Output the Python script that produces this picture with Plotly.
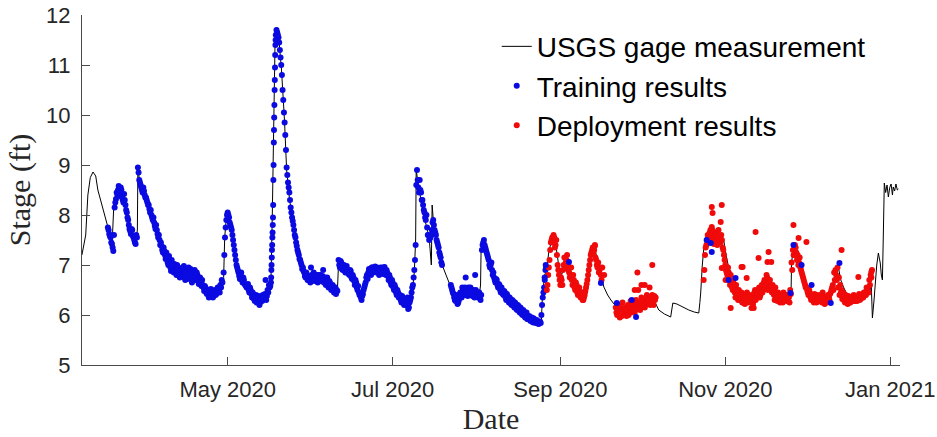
import numpy as np
import pandas as pd
import plotly.graph_objects as go

BASE = pd.Timestamp("2020-03-01")

# ---- USGS gage measurement (days since 2020-03-01, stage ft) ----
gage_days = [7.1, 8.5, 9.3, 10.2, 11.2, 12.2, 13.0, 14.9, 16.7, 17.5, 18.2, 18.6, 18.9, 19.6, 20.4, 21.5,
             22.6, 23.7, 24.8, 26.0, 27.1, 27.6, 27.8, 28.6, 30.0, 32.2, 34.0, 35.9, 37.8, 39.5, 41.4, 44.0,
             47.0, 49.0, 50.7, 52.5, 54.4, 56.5, 58.8, 59.5, 59.9, 60.5, 61.0, 62.0, 63.2, 64.3, 66.0, 68.0,
             70.0, 71.7, 74.0, 76.5, 77.0, 77.5, 78.0, 78.5, 79.1, 79.8, 80.9, 82.0, 82.8, 83.9, 85.7, 87.6,
             89.4, 91.0, 93.1, 96.0, 98.6, 100.5, 101.6, 102.0, 104.0, 106.0, 108.0, 109.0, 110.8, 111.5,
             112.7, 115.0, 117.1, 119.0, 120.8, 122.5, 123.7, 125.5, 127.1, 128.5, 129.5, 130.0, 130.5,
             130.7, 131.8, 133.7, 135.5, 136.3, 136.6, 137.4, 139.2, 140.3, 142.9, 144.8, 146.6, 148.5,
             150.3, 152.0, 154.0, 154.5, 154.7, 155.8, 157.7, 159.5, 161.0, 163.2, 165.0, 166.9, 169.0,
             172.4, 174.0, 176.1, 177.0, 177.4, 178.2, 179.0, 179.8, 181.0, 181.7, 182.6, 183.5, 184.5,
             185.3, 186.1, 187.5, 189.0, 190.8, 192.7, 194.0, 194.6, 195.5, 196.4, 197.3, 198.3, 200.1,
             201.5, 202.7, 204.9, 207.0, 209.0, 211.2, 213.0, 215.0, 217.0, 218.6, 220.4, 222.5, 224.8,
             225.3, 225.6, 227.1, 229.5, 231.5, 233.5, 235.2, 235.6, 235.9, 236.5, 237.0, 238.0, 238.9,
             240.5, 242.6, 243.5, 244.4, 245.3, 246.2, 248.0, 249.9, 251.5, 253.6, 255.5, 257.3, 259.0,
             261.0, 263.0, 264.7, 266.0, 267.6, 269.3, 269.5, 270.2, 271.0, 272.1, 273.9, 275.8, 277.5,
             279.5, 281.5, 283.1, 284.0, 285.0, 286.0, 286.8, 287.7, 288.7, 290.5, 292.5, 294.2, 296.0,
             297.9, 299.0, 299.4, 300.0, 300.5, 301.0, 301.6, 302.0, 302.3, 302.7, 303.1, 303.4, 303.8,
             304.3, 304.8, 305.3, 305.8, 306.3, 306.8, 307.1, 307.6, 308.1, 308.6, 309.0]
gage_stage = [7.2, 7.6, 8.4, 8.75, 8.86, 8.78, 8.5, 8.1, 7.76, 7.6, 7.35, 7.7, 8.2, 8.35, 8.55, 8.45,
              8.3, 8.0, 7.75, 7.65, 7.5, 7.7, 8.95, 8.6, 8.45, 8.1, 7.8, 7.5, 7.25, 7.1, 6.95, 6.9,
              6.85, 6.78, 6.7, 6.55, 6.47, 6.48, 6.55, 6.75, 7.55, 7.95, 8.05, 7.85, 7.4, 7.0, 6.8, 6.62,
              6.45, 6.36, 6.35, 6.5, 6.7, 8.0, 10.0, 11.4, 11.76, 11.6, 10.9, 9.9, 8.9, 8.3, 7.7, 7.2,
              6.9, 6.8, 6.75, 6.7, 6.6, 6.5, 6.52, 7.05, 7.0, 6.92, 6.7, 6.55, 6.35, 6.5,
              6.8, 6.9, 6.92, 6.88, 6.8, 6.55, 6.4, 6.3, 6.25, 6.3, 6.6, 6.85, 7.5,
              8.9, 8.5, 7.95, 7.55, 7.0, 8.2, 7.65, 7.3, 7.0, 6.64, 6.44, 6.32, 6.4,
              6.45, 6.4, 6.38, 6.6, 7.3, 7.46, 7.1, 6.7, 6.55, 6.42, 6.3, 6.22, 6.12,
              6.0, 5.92, 5.85, 5.9, 6.4, 6.8, 6.9, 7.3, 7.5, 7.6, 7.3, 6.95, 6.8,
              7.0, 7.15, 6.9, 6.64, 6.45, 6.3, 6.45, 6.8, 7.2, 7.36, 7.2, 6.96, 6.56,
              6.4, 6.3, 6.15, 6.05, 6.1, 6.15, 6.2, 6.25, 6.3, 6.3, 6.1, 6.02, 5.96,
              6.1, 6.24, 6.22, 6.15, 6.1, 6.06, 6.04, 6.25, 6.44, 7.0, 7.3, 7.55, 7.66,
              7.6, 7.64, 7.55, 7.5, 7.2, 6.96, 6.75, 6.5, 6.4, 6.3, 6.3, 6.36, 6.5,
              6.64, 6.5, 6.36, 6.35, 6.34, 6.4, 7.04, 7.36, 7.2, 7.04, 6.76, 6.5, 6.4,
              6.34, 6.28, 6.24, 6.35, 6.5, 6.75, 6.96, 6.7, 6.56, 6.36, 6.35, 6.36, 6.4,
              6.44, 6.56, 5.94, 6.3, 6.7, 7.0, 7.24, 7.15, 7.04, 6.8, 6.7, 7.5, 8.64,
              8.45, 8.6, 8.36, 8.55, 8.62, 8.4, 8.56, 8.48, 8.62, 8.5, 8.52]

# ---- Training results: segments (start day, step in days, values) ----
train_starts = [16.7, 27.8, 59.5, 77.0, 78.8, 102.0, 130.0, 143.5, 155.0,
                16.95, 28.05, 59.75, 77.07, 79.05, 102.25, 130.25, 143.75, 155.25]
train_steps = [0.5, 0.5, 0.5, 0.15, 0.5, 0.5, 0.5, 0.5, 0.5,
               0.5, 0.5, 0.5, 0.15, 0.5, 0.5, 0.5, 0.5, 0.5]
train_values = [
    [7.75, 7.62, 7.55, 7.42, 7.28, 8.15, 8.32, 8.4, 8.58, 8.38, 8.5, 8.3, 8.42, 8.2, 8.05, 7.9, 7.72, 7.62,
     7.7, 7.55, 7.45, 7.6],
    [8.95, 8.7, 8.6, 8.5, 8.55, 8.4, 8.35, 8.25, 8.2, 8.05, 8.0, 7.9, 7.85, 7.72, 7.7, 7.55, 7.5, 7.45,
     7.3, 7.35, 7.2, 7.25, 7.05, 7.18, 6.95, 7.1, 6.92, 7.02, 6.85, 7.0, 6.95, 6.75, 6.9, 6.85, 6.98, 6.7,
     6.88, 6.9, 6.78, 6.92, 6.65, 6.8, 6.9, 6.72, 6.8, 6.62, 6.75, 6.58, 6.6, 6.48, 6.55, 6.42, 6.5, 6.4,
     6.52, 6.45, 6.38, 6.5, 6.42, 6.55, 6.48, 6.6, 6.7],
    [6.85, 7.55, 7.9, 8.05, 7.95, 7.8, 7.7, 7.5, 7.3, 7.1, 6.95, 6.85, 6.72, 6.85, 6.65, 6.7, 6.6, 6.55,
     6.62, 6.45, 6.5, 6.35, 6.42, 6.28, 6.4, 6.3, 6.38, 6.25, 6.35, 6.4, 6.32, 6.7, 6.38, 6.45, 6.55],
    [6.65, 6.9, 7.15, 7.4, 7.65, 7.95, 8.7, 9.45, 9.95, 10.5, 10.95, 11.4],
    [11.6, 11.65, 11.55, 11.3, 11.0, 10.5, 10.05, 9.6, 8.95, 8.65, 8.45, 8.15, 7.95, 7.8, 7.6, 7.45, 7.3,
     7.2, 7.1, 7.0, 6.95, 6.85, 6.75, 6.8, 6.7, 6.78, 6.95, 6.7, 6.85, 6.72, 6.8, 6.65, 6.75, 6.8, 6.7,
     6.9, 6.72, 6.6, 6.75, 6.55, 6.65, 6.5, 6.6, 6.45, 6.55, 6.5],
    [7.1, 6.95, 7.05, 6.9, 7.0, 6.85, 6.98, 6.9, 6.8, 6.88, 6.72, 6.75, 6.6, 6.65, 6.5, 6.45, 6.4, 6.3,
     6.42, 6.55, 6.65, 6.8, 6.85, 6.9, 6.8, 6.95, 6.88, 6.97, 6.85, 6.92, 6.8, 6.95, 6.9, 6.82, 6.96, 6.8,
     6.85, 6.7, 6.75, 6.6, 6.65, 6.5, 6.55, 6.4, 6.45, 6.35, 6.3, 6.38, 6.25, 6.32, 6.2, 6.35, 6.15, 6.3,
     6.45, 6.6],
    [6.9, 7.4, 8.9, 8.55, 8.7, 8.45, 8.3, 8.1, 7.95, 8.0, 7.6, 7.5, 7.55, 7.7, 7.9, 7.7, 7.6, 7.45, 7.35,
     7.2, 7.05],
    [6.6, 6.5, 6.42, 6.3, 6.35, 6.22, 6.3, 6.45, 6.35, 6.5, 6.4, 6.75, 6.45, 6.55, 6.4, 6.5, 6.38, 6.45,
     6.8, 6.42, 6.35, 6.45, 6.3],
    [7.3, 7.45, 7.4, 7.3, 7.2, 7.1, 6.95, 7.05, 6.8, 6.75, 6.65, 6.7, 6.55, 6.6, 6.45, 6.5, 6.4, 6.45,
     6.3, 6.38, 6.25, 6.32, 6.2, 6.28, 6.15, 6.22, 6.1, 6.18, 6.05, 6.12, 6.0, 6.08, 5.95, 6.05, 5.92,
     5.98, 5.88, 5.95, 5.85, 5.9, 5.84, 5.88, 5.82, 5.87, 6.0, 6.35, 6.55, 6.9],
    # second pass (offset samples)
    [7.7, 7.58, 7.45, 7.35, 7.6, 8.25, 8.45, 8.5, 8.45, 8.55, 8.35, 8.25, 8.3, 8.1, 7.95, 7.8, 7.68, 7.72,
     7.58, 7.5, 7.42, 7.55],
    [8.85, 8.65, 8.55, 8.45, 8.48, 8.35, 8.3, 8.2, 8.12, 8.1, 7.95, 7.95, 7.78, 7.8, 7.62, 7.6, 7.4, 7.38,
     7.25, 7.28, 7.12, 7.15, 7.0, 7.05, 6.88, 7.0, 6.85, 6.9, 6.8, 6.95, 6.82, 6.9, 6.8, 6.92, 6.75, 6.85,
     6.72, 6.95, 6.85, 6.7, 6.85, 6.75, 6.7, 6.85, 6.68, 6.72, 6.65, 6.7, 6.55, 6.58, 6.45, 6.5, 6.35,
     6.45, 6.42, 6.35, 6.45, 6.4, 6.48, 6.5, 6.45, 6.55, 6.65],
    [7.2, 7.75, 8.0, 8.0, 7.85, 7.75, 7.6, 7.4, 7.2, 7.0, 6.9, 6.78, 6.8, 6.7, 6.75, 6.62, 6.58, 6.6, 6.5,
     6.55, 6.42, 6.45, 6.32, 6.35, 6.25, 6.32, 6.2, 6.3, 6.28, 6.35, 6.42, 6.3, 6.5, 6.6, 6.58],
    [6.75, 7.0, 7.3, 7.55, 7.8, 8.2, 9.0, 9.7, 10.2, 10.7, 11.2, 11.5],
    [11.7, 11.6, 11.45, 11.15, 10.8, 10.3, 9.85, 9.3, 8.8, 8.55, 8.3, 8.05, 7.88, 7.7, 7.55, 7.38, 7.25,
     7.12, 7.05, 6.92, 6.88, 6.78, 6.85, 6.7, 6.75, 6.65, 6.8, 6.75, 6.68, 6.78, 6.7, 6.8, 6.68, 6.72,
     6.78, 6.65, 6.75, 6.7, 6.62, 6.68, 6.58, 6.55, 6.5, 6.55, 6.42, 6.48],
    [7.0, 7.08, 6.92, 6.98, 6.9, 6.95, 6.85, 6.82, 6.9, 6.75, 6.8, 6.68, 6.7, 6.55, 6.58, 6.4, 6.35, 6.38,
     6.5, 6.6, 6.75, 6.72, 6.92, 6.85, 6.95, 6.85, 6.92, 6.88, 6.95, 6.85, 6.92, 6.85, 6.95, 6.88, 6.85,
     6.9, 6.78, 6.8, 6.65, 6.7, 6.55, 6.6, 6.45, 6.5, 6.35, 6.4, 6.25, 6.3, 6.2, 6.28, 6.22, 6.12, 6.25,
     6.35, 6.55, 6.75],
    [7.1, 8.6, 8.7, 8.45, 8.5, 8.3, 8.2, 8.05, 7.9, 7.75, 7.6, 7.55, 7.6, 7.85, 7.8, 7.65, 7.5, 7.4, 7.25,
     7.15, 7.0],
    [6.55, 6.45, 6.35, 6.28, 6.4, 6.25, 6.38, 6.4, 6.55, 6.42, 6.55, 6.48, 6.38, 6.48, 6.55, 6.42, 6.5,
     6.35, 6.5, 6.4, 6.45, 6.38, 6.4],
    [7.4, 7.5, 7.35, 7.25, 7.15, 7.0, 7.0, 6.9, 6.85, 6.7, 6.72, 6.6, 6.62, 6.5, 6.55, 6.42, 6.48, 6.35,
     6.42, 6.3, 6.35, 6.22, 6.3, 6.18, 6.25, 6.12, 6.2, 6.08, 6.15, 6.02, 6.1, 5.98, 6.02, 5.92, 5.96,
     5.9, 5.92, 5.86, 5.93, 5.85, 5.9, 5.83, 5.86, 5.84, 6.2, 6.45, 6.7, 6.95],
]
# training points that fall inside the deployment period
train_late_days = [239.6, 240.0, 238.1, 246.2, 248.8, 270.2, 273.2, 276.9, 284.0, 287.2, 269.1,
                   187.2, 204.9, 212.0, 199.0, 210.4, 178.2, 178.6]
train_late_stage = [7.44, 7.26, 7.5, 6.7, 6.74, 7.4, 7.0, 6.6, 6.24, 7.04, 6.44,
                    7.06, 6.24, 5.96, 6.64, 6.3, 6.75, 7.0]

# ---- Deployment results ----
deploy_starts = [179.0, 204.5, 237.0, 179.25, 204.75, 237.25]
deploy_steps = [0.5, 0.5, 0.5, 0.5, 0.5, 0.5]
deploy_values = [
    [6.5, 6.8, 7.1, 7.45, 7.55, 7.6, 7.35, 7.5, 7.0, 6.8, 6.6, 6.7, 6.9, 7.15, 7.05, 7.2, 6.9, 6.75, 6.95,
     6.6, 6.7, 6.5, 6.6, 6.4, 6.55, 6.35, 6.45, 6.3, 6.4, 6.55, 6.7, 6.9, 7.1, 7.25, 7.35, 7.3, 7.15, 7.0,
     7.05, 6.9, 6.8],
    [6.15, 6.0, 6.2, 5.95, 6.1, 6.25, 6.0, 6.15, 5.98, 6.2, 6.05, 6.28, 6.1, 6.2, 6.05, 6.3, 6.15, 6.25,
     6.1, 6.35, 6.2, 6.3, 6.25, 6.4, 6.22, 6.35, 6.28, 6.4, 6.2, 6.3],
    [6.7, 7.2, 7.4, 7.6, 7.55, 7.7, 7.45, 7.6, 7.5, 7.65, 7.4, 7.7, 7.55, 7.6, 7.35, 7.2, 7.0, 6.85, 6.95,
     6.7, 6.8, 6.55, 6.7, 6.45, 6.6, 6.4, 6.5, 6.3, 6.45, 6.25, 6.4, 6.3, 6.45, 6.28, 6.35, 6.25, 6.4, 6.3,
     6.5, 6.35, 6.45, 6.55, 6.4, 6.6, 6.5, 6.7, 6.55, 6.75, 6.6, 6.7, 6.5, 6.6, 6.4, 6.55, 6.35, 6.45, 6.3,
     6.4, 6.3, 6.45, 6.35, 6.3, 6.4, 6.35, 6.5, 7.05, 7.3, 7.2, 7.35, 7.1, 7.0, 7.15, 6.9, 6.8, 6.7, 6.6,
     6.55, 6.45, 6.5, 6.35, 6.4, 6.3, 6.42, 6.32, 6.4, 6.28, 6.35, 6.3, 6.45, 6.28, 6.35, 6.25, 6.4, 6.3,
     6.45, 6.55, 6.5, 6.7, 6.8, 6.95, 6.75, 6.6, 6.5, 6.45, 6.35, 6.4, 6.3, 6.38, 6.25, 6.35, 6.3, 6.4,
     6.28, 6.36, 6.3, 6.42, 6.32, 6.4, 6.35, 6.45, 6.4, 6.5, 6.45, 6.6, 6.75],
    # second pass (offset samples)
    [6.6, 6.95, 7.3, 7.5, 7.45, 7.55, 7.4, 7.2, 6.9, 6.7, 6.75, 6.6, 7.0, 6.95, 7.1, 7.0, 6.85, 6.8, 6.7,
     6.8, 6.55, 6.65, 6.45, 6.5, 6.38, 6.45, 6.3, 6.35, 6.48, 6.62, 6.8, 7.0, 7.2, 7.3, 7.25, 7.38, 7.1,
     6.95, 6.85, 6.95, 6.7],
    [6.05, 6.1, 6.0, 6.15, 5.98, 6.12, 6.08, 6.02, 6.1, 6.0, 6.15, 6.05, 6.22, 6.08, 6.2, 6.12, 6.2, 6.15,
     6.25, 6.18, 6.3, 6.15, 6.32, 6.25, 6.3, 6.2, 6.35, 6.25, 6.38, 6.35],
    [6.9, 7.35, 7.5, 7.45, 7.65, 7.5, 7.7, 7.42, 7.6, 7.5, 7.6, 7.5, 7.45, 7.5, 7.3, 7.1, 6.9, 6.8, 6.85,
     6.6, 6.65, 6.5, 6.55, 6.35, 6.5, 6.3, 6.4, 6.38, 6.25, 6.35, 6.22, 6.35, 6.25, 6.4, 6.3, 6.35, 6.22,
     6.45, 6.3, 6.45, 6.5, 6.35, 6.5, 6.45, 6.65, 6.6, 6.8, 6.5, 6.65, 6.55, 6.45, 6.5, 6.3, 6.45, 6.28,
     6.35, 6.25, 6.38, 6.25, 6.32, 6.4, 6.28, 6.35, 6.25, 6.42, 6.9, 7.2, 7.4, 7.25, 7.2, 7.05, 6.95, 6.85,
     6.75, 6.65, 6.55, 6.5, 6.4, 6.45, 6.3, 6.35, 6.25, 6.35, 6.25, 6.38, 6.3, 6.4, 6.25, 6.38, 6.22,
     6.32, 6.3, 6.35, 6.42, 6.5, 6.6, 6.85, 6.9, 6.7, 6.55, 6.4, 6.45, 6.32, 6.3, 6.25, 6.32, 6.22, 6.3,
     6.25, 6.35, 6.3, 6.28, 6.35, 6.28, 6.38, 6.3, 6.4, 6.35, 6.45, 6.4, 6.55, 6.5, 6.7, 6.8, 6.9],
]
deploy_extra_days = [212.5, 212.8, 214.0, 215.2, 217.0, 218.0, 211.5,
                     240.0, 243.7, 240.3, 243.3, 240.0, 256.2, 261.0, 257.3, 251.0, 252.9, 247.0,
                     254.7, 270.2, 272.1, 275.0, 288.0, 294.2, 299.0, 260.6, 251.4, 243.7, 245.1,
                     262.0, 255.5, 196.8, 199.5, 200.2]
deploy_extra_stage = [6.85, 6.5, 6.6, 6.6, 6.55, 7.0, 6.5,
                      8.16, 8.2, 8.04, 7.86, 7.76, 7.66, 7.26, 7.14, 6.96, 6.74, 6.14,
                      6.14, 7.8, 7.54, 7.46, 7.3, 6.76, 6.86, 7.06, 6.96, 6.94, 6.7,
                      7.06, 6.14, 7.4, 6.95, 6.8]

# x-axis ticks
tick_days = [61, 122, 184, 245, 306]
tick_text = ["May 2020", "Jul 2020", "Sep 2020", "Nov 2020", "Jan 2021"]
x_range_days = [7.13, 309.6]


def to_dates(days):
    return BASE + pd.to_timedelta(np.asarray(days, dtype=float), unit="D")


def expand(starts, steps, values):
    d, v = [], []
    for s, st, vals in zip(starts, steps, values):
        for i, val in enumerate(vals):
            d.append(s + st * i)
            v.append(val)
    return d, v


tr_d, tr_v = expand(train_starts, train_steps, train_values)
dp_d, dp_v = expand(deploy_starts, deploy_steps, deploy_values)
dp_d += deploy_extra_days
dp_v += deploy_extra_stage

BLUE = "rgb(10,10,225)"
RED = "rgb(240,10,10)"
MS = 6

fig = go.Figure()
fig.add_trace(go.Scatter(x=to_dates(gage_days), y=gage_stage, mode="lines",
                         line=dict(color="black", width=1), name="USGS gage measurement"))
fig.add_trace(go.Scatter(x=to_dates(tr_d), y=tr_v, mode="markers",
                         marker=dict(color=BLUE, size=MS, line=dict(width=0)), name="Training results"))
fig.add_trace(go.Scatter(x=to_dates(dp_d), y=dp_v, mode="markers",
                         marker=dict(color=RED, size=MS, line=dict(width=0)), name="Deployment results"))
fig.add_trace(go.Scatter(x=to_dates(train_late_days), y=train_late_stage, mode="markers",
                         marker=dict(color=BLUE, size=MS, line=dict(width=0)), showlegend=False))

axis_col = "#4a4a4a"
tick_font = dict(family="Liberation Sans, Arial, sans-serif", size=22, color="#262626")
fig.update_layout(
    width=937, height=437,
    margin=dict(l=82, r=37, t=15, b=72),
    plot_bgcolor="white", paper_bgcolor="white",
    showlegend=True,
    legend=dict(x=0.507, y=0.981, xanchor="left", yanchor="top",
                font=dict(family="Liberation Sans, Arial, sans-serif", size=28, color="black"),
                bgcolor="rgba(0,0,0,0)", borderwidth=0, itemsizing="trace", tracegroupgap=0),
    xaxis=dict(type="date", range=list(to_dates(x_range_days)), tickvals=list(to_dates(tick_days)),
               ticktext=tick_text, showgrid=False, zeroline=False, showline=True, linecolor=axis_col,
               linewidth=1, ticks="inside", ticklen=8, tickcolor=axis_col, tickfont=tick_font,
               ticklabelstandoff=5, automargin=False,
               title=dict(text="Date", standoff=6,
                          font=dict(family="Liberation Serif, Times New Roman, serif", size=30,
                                    color="#262626"))),
    yaxis=dict(range=[5, 12], dtick=1, showgrid=False, zeroline=False, showline=True,
               linecolor=axis_col, linewidth=1, ticks="inside", ticklen=8, tickcolor=axis_col,
               tickfont=tick_font, ticklabelstandoff=6, automargin=False,
               title=dict(text="Stage (ft)", standoff=6,
                          font=dict(family="Liberation Serif, Times New Roman, serif", size=30,
                                    color="#262626"))),
)

fig.write_html("out.html")
